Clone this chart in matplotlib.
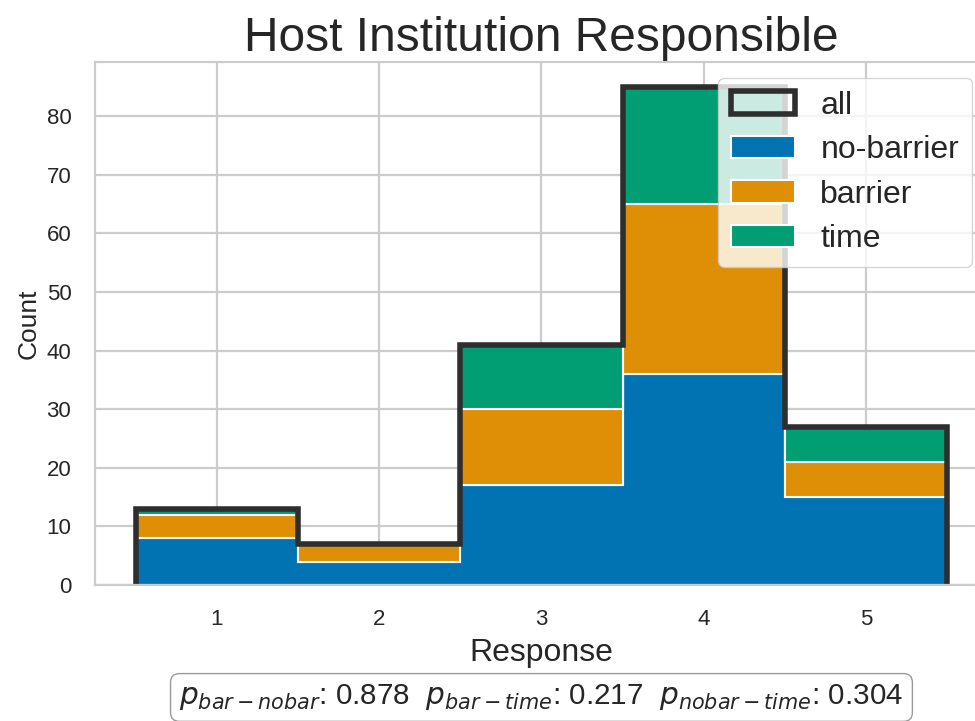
import numpy as np
import matplotlib.pyplot as plt
import seaborn as sns
from matplotlib.patches import Patch

responses = [1, 2, 3, 4, 5]
no_barrier = [8, 4, 17, 36, 15]
barrier = [4, 3, 13, 29, 6]
time = [1, 0, 11, 20, 6]
labels = ['no-barrier', 'barrier', 'time']
p_text = r"$p_{bar-nobar}$: 0.878  $p_{bar-time}$: 0.217  $p_{nobar-time}$: 0.304"

sns.set_theme(style='whitegrid')
plt.rcParams['font.family'] = ['Liberation Sans', 'DejaVu Sans']
plt.rcParams['grid.linewidth'] = 1.6
plt.rcParams['axes.linewidth'] = 1.6
colors = sns.color_palette('colorblind')[:3]

fig = plt.figure(figsize=(9.75, 7.21), dpi=100)
ax = fig.add_axes([0.0974, 0.1886, 0.9159, 0.7254])

# stacked step histogram, one layer per group
edges = np.arange(len(responses) + 1) + 0.5
bottom = np.zeros(len(responses))
for vals, col in zip([no_barrier, barrier, time], colors):
    vals = np.array(vals, dtype=float)
    ax.stairs(bottom + vals, edges, baseline=bottom, fill=True,
              facecolor=col, edgecolor='white', linewidth=1.5)
    bottom = bottom + vals

# outline of the total
ax.stairs(bottom, edges, baseline=0, fill=False, color='#2e2e2e', linewidth=4)

ax.set_xlim(0.25, 5.75)
ax.set_ylim(0, bottom.max() * 1.05)
ax.set_xticks(responses)
ax.tick_params(labelsize=16, colors='#262626', pad=11)
ax.set_xlabel('Response', fontsize=23, labelpad=6)
ax.set_ylabel('Count', fontsize=19, labelpad=4)
ax.set_title('Host Institution Responsible', fontsize=34.5, pad=8)

handles = [Patch(facecolor='none', edgecolor='#2e2e2e', linewidth=4)]
handles += [Patch(facecolor=c, edgecolor='white', linewidth=1.5) for c in colors]
ax.legend(handles, ['all'] + labels, loc='upper right', fontsize=23, framealpha=0.8,
          borderaxespad=0.5, labelspacing=0.45)

ax.text(0.5, -0.215, p_text, transform=ax.transAxes, ha='center', va='center',
        fontsize=21.3, bbox=dict(boxstyle='round', facecolor='white', edgecolor='#999999'))

plt.savefig('out.png', dpi=100)
